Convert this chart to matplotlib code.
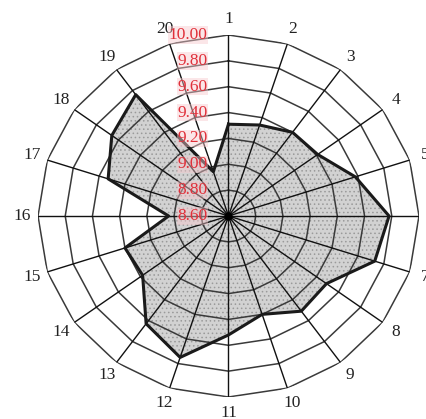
import numpy as np
import matplotlib
matplotlib.use("Agg")
import matplotlib.pyplot as plt
from matplotlib.transforms import offset_copy

# data
categories = [str(i) for i in range(1, 21)]
values = [9.31, 9.34, 9.40, 9.41, 9.58, 9.78, 9.73, 9.49, 9.51, 9.40,
          9.52, 9.75, 9.63, 9.38, 9.40, 9.04, 9.53, 9.66, 9.76, 8.96]
ring_levels = [8.60, 8.80, 9.00, 9.20, 9.40, 9.60, 9.80, 10.00]
ring_labels = ["8.60", "8.80", "9.00", "9.20", "9.40", "9.60", "9.80", "10.00"]

plt.rcParams['font.family'] = ['Liberation Serif', 'DejaVu Serif']
plt.rcParams['hatch.linewidth'] = 0.6

fig = plt.figure(figsize=(4.27, 4.19), dpi=100)
ax = fig.add_axes([38 / 427, 22 / 419, 381 / 427, 362 / 419], projection='polar')
ax.set_aspect('auto')
ax.set_theta_zero_location('N')
ax.set_theta_direction(-1)
ax.set_ylim(ring_levels[0], ring_levels[-1])
ax.grid(False)
ax.set_xticks([])
ax.set_yticks([])
ax.spines['polar'].set_visible(False)
ax.patch.set_visible(False)

n = len(categories)
theta = np.arange(n) * 2 * np.pi / n
th_closed = np.append(theta, theta[0])
val_closed = np.append(values, values[0])

# filled area
ax.fill(th_closed, val_closed, facecolor='#d2d2d2', edgecolor='none', zorder=1)
ax.fill(th_closed, val_closed, facecolor='none', edgecolor='#9a9a9a', hatch='....',
        linewidth=0, zorder=1)

# polygon rings
for lv in ring_levels[1:]:
    ax.plot(th_closed, [lv] * (n + 1), color='#3a3a3a', lw=1.1, zorder=2)

# spokes
for t in theta:
    ax.plot([t, t], [ring_levels[0], ring_levels[-1]], color='#111111', lw=1.0, zorder=2)

ax.plot(th_closed, val_closed, color='#1a1a1a', lw=2.2, zorder=3)
ax.plot([0], [ring_levels[0]], 'o', color='black', ms=5, zorder=4)

# category labels
for t, lab in zip(theta, categories):
    ax.text(t, 10.12, lab, ha='center', va='center', fontsize=12.5, color='#222222',
            clip_on=False)

# red radial labels
tr = offset_copy(ax.transData, fig=fig, x=-21, y=0, units='dots')
for lv, lab in zip(ring_levels, ring_labels):
    ax.text(0, lv, lab, transform=tr, ha='right', va='center', fontsize=12.5,
            color='#e0303a', zorder=5,
            bbox=dict(facecolor='#f7c9cd', alpha=0.45, edgecolor='none', pad=0.5))

fig.savefig('out.png', dpi=100)
